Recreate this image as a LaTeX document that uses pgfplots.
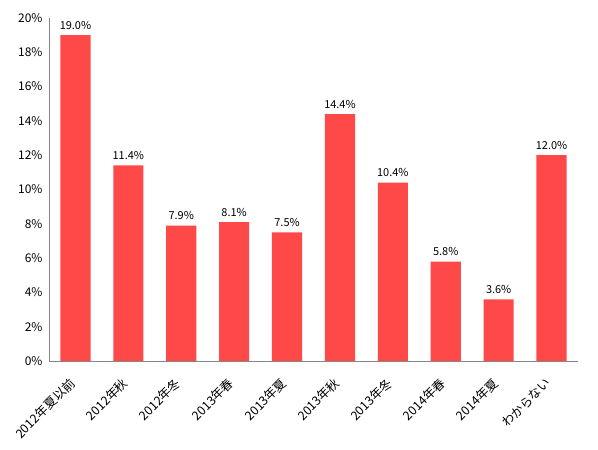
\documentclass[border=0pt]{standalone}
\usepackage{pgfplots}
\pgfplotsset{compat=1.18}
\usepackage{fontspec}
\setmainfont{Noto Sans CJK JP}
\definecolor{barred}{HTML}{FF4848}
\definecolor{axgray}{HTML}{868686}
\begin{document}
\begin{tikzpicture}
\begin{axis}[
    name=ax,
    scale only axis,
    width=529bp, height=343bp,
    xmin=-0.5, xmax=9.5,
    ymin=0, ymax=20,
    ytick={0,2,...,20},
    yticklabel={\pgfmathprintnumber{\tick}\%},
    xtick=data,
    xticklabels={2012年夏以前,2012年秋,2012年冬,2013年春,2013年夏,2013年秋,2013年冬,2014年春,2014年夏,わからない},
    x tick label style={rotate=45, anchor=north east, inner sep=1pt, xshift=-15bp, yshift=-5bp, font=\fontsize{12.5}{15}\selectfont},
    y tick label style={xshift=-3bp, font=\fontsize{12}{14}\selectfont},
    /pgf/number format/assume math mode=true,
    major tick length=0pt,
    axis x line*=bottom,
    axis y line*=left,
    axis line style={draw=axgray, line width=0.8pt},
    ybar,
    bar width=0.57,
    nodes near coords={\pgfmathprintnumber[fixed,fixed zerofill,precision=1]{\pgfplotspointmeta}\%},
    every node near coord/.append style={font=\fontsize{11}{13}\selectfont, yshift=2bp},
]
\addplot[fill=barred, draw=none] coordinates {
    (0,19.0) (1,11.4) (2,7.9) (3,8.1) (4,7.5)
    (5,14.4) (6,10.4) (7,5.8) (8,3.6) (9,12.0)
};
\end{axis}
\pgfresetboundingbox
\path ([xshift=-49bp,yshift=-89bp]ax.south west) rectangle ([xshift=20bp,yshift=18bp]ax.north east);
\end{tikzpicture}
\end{document}
